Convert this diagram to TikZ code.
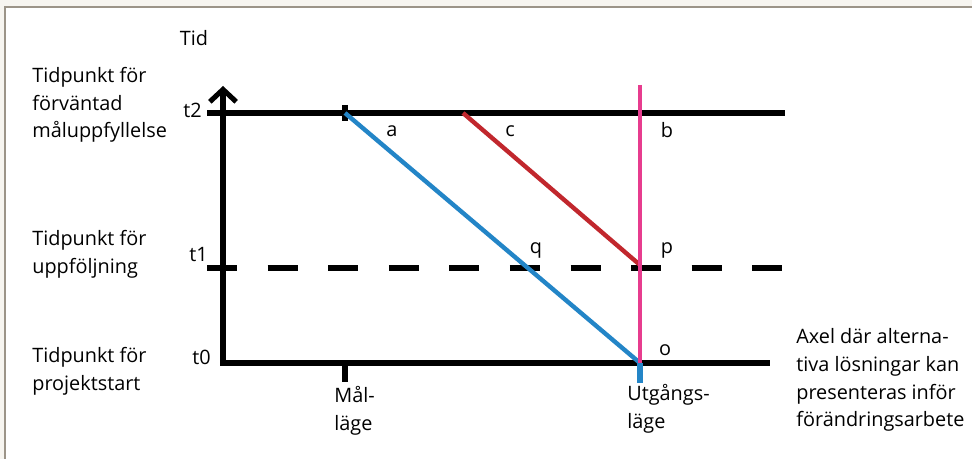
\documentclass[tikz,border=0pt]{standalone}
\usepackage{fontspec}
\setmainfont{Open Sans}
\usetikzlibrary{arrows.meta, calc}

\definecolor{framebg}{HTML}{F7F5F0}
\definecolor{frameline}{HTML}{9C9488}
\definecolor{pathblue}{HTML}{2385C7}
\definecolor{pathred}{HTML}{C1272D}
\definecolor{pathpink}{HTML}{E73C8E}

\begin{document}
\begin{tikzpicture}[
    x=0.02cm, y=-0.02cm,
    font=\fontsize{11.3}{15.8}\selectfont,
    % --- Styles ---
    axis/.style={line width=2.9pt, black},
    level/.style={line width=2.9pt, black},
    followup/.style={level, dash pattern=on 0.6cm off 0.612cm},
    tickmark/.style={line width=2.9pt, draw=#1},
    tickmark/.default=black,
    route/.style={line width=2.5pt, draw=#1},
    side_text/.style={align=left, anchor=west, inner sep=0pt},
    time_text/.style={anchor=east, inner sep=0pt},
    point_text/.style={inner sep=0pt},
]
    \useasboundingbox (0,0) rectangle (972,459);

    % ==========================
    % 0. FRAME
    % ==========================
    \fill[framebg] (0,0) rectangle (972,459);
    \fill[white] (5,7) rectangle (972,459);
    \draw[frameline, line width=0.7pt] (5,459) -- (5,7) -- (972,7);

    % ==========================
    % 1. AXES AND TIME LEVELS
    % ==========================
    \coordinate (O) at (223,363);
    \coordinate (ytop) at (223,86);
    \coordinate (t0end) at (770,363);
    \coordinate (t2start) at (207,113);
    \coordinate (t2end) at (785,113);
    \coordinate (t1start) at (207,268);
    \coordinate (t1end) at (785,268);

    \draw[axis, {Straight Barb[length=7pt, width=15pt]}-] (ytop) -- (O) -- (t0end);
    \draw[level] (t2start) -- (t2end);
    \draw[followup] (t1start) -- (t1end);

    \node[point_text] (tid) at (194,38) {Tid};
    \node[time_text] (t2) at (202,110) {t2};
    \node[time_text] (t1) at (208,255) {t1};
    \node[time_text] (t0) at (211,357) {t0};

    \node[side_text] (lbl2) at (32,105) {Tidpunkt för\\förväntad\\måluppfyllelse};
    \node[side_text] (lbl1) at (32,254) {Tidpunkt för\\uppföljning};
    \node[side_text] (lbl0) at (32,371) {Tidpunkt för\\projektstart};

    % ==========================
    % 2. TARGET AND START STATES
    % ==========================
    \coordinate (a) at (345,113);
    \coordinate (c) at (463,113);
    \coordinate (b) at (640,85);
    \coordinate (p) at (640,265);
    \coordinate (o) at (640,363);
    \coordinate (malbot) at (345,363);

    \draw[tickmark] ($(a)+(0,-8)$) -- ($(a)+(0,8)$);
    \draw[tickmark] (malbot) -- ++(0,19);
    \draw[tickmark=pathblue] (o) -- ++(0,20);

    \draw[route=pathblue] (a) -- (o);
    \draw[route=pathred] (c) -- (p);
    \draw[route=pathpink] (b) -- (o);

    \node[point_text] (la) at (392,131) {a};
    \node[point_text] (lc) at (510,131) {c};
    \node[point_text] (lb) at (667,130) {b};
    \node[point_text] (lq) at (536,250) {q};
    \node[point_text] (lp) at (667,250) {p};
    \node[point_text] (lo) at (665,350) {o};

    \node[side_text] (mal) at (334,411) {Mål-\\läge};
    \node[side_text] (utg) at (627,409) {Utgångs-\\läge};
    \node[side_text] (axel) at (796,380) {Axel där alterna-\\tiva lösningar kan\\presenteras inför\\förändringsarbete};

\end{tikzpicture}
\end{document}
